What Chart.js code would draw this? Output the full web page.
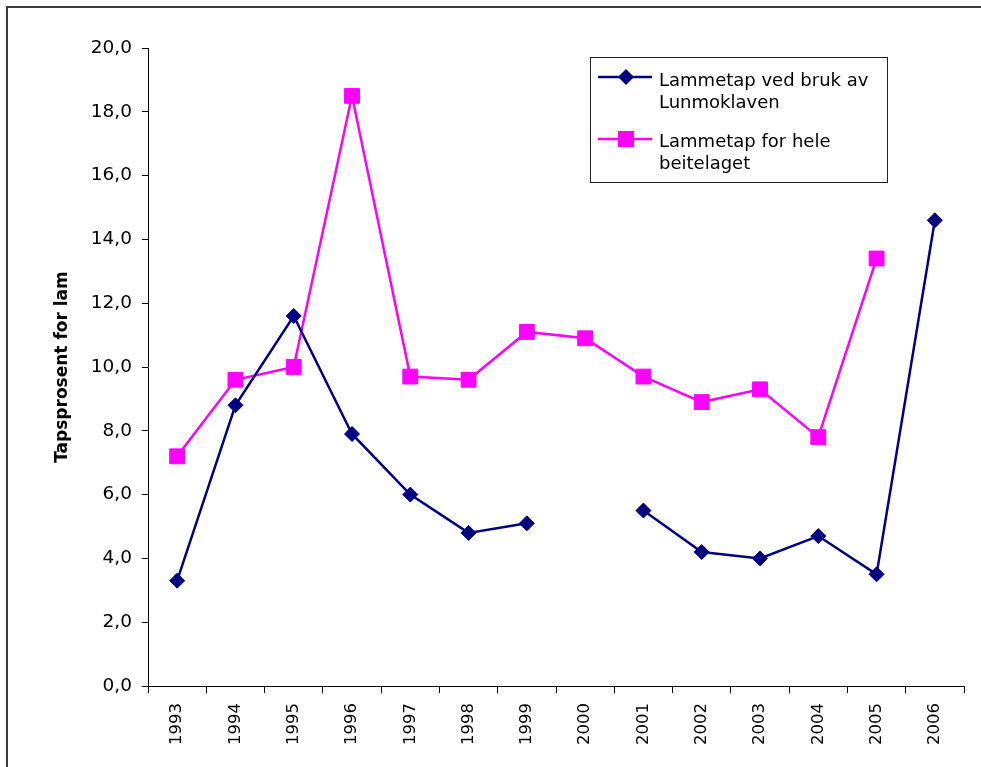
<!DOCTYPE html>
<html>
<head>
<meta charset="utf-8">
<script src="https://cdn.jsdelivr.net/npm/chart.js@4"></script>
<style>
  body { margin: 0; background: #fff; }
  canvas { display: block; }
</style>
</head>
<body>
<canvas id="lamChart" width="981" height="767"></canvas>
<script>
// Years on the x axis
const years = ['1993', '1994', '1995', '1996', '1997', '1998', '1999',
               '2000', '2001', '2002', '2003', '2004', '2005', '2006'];

// Loss percent for lambs (null = no value)
const lunmoklaven = [3.3, 8.8, 11.6, 7.9, 6.0, 4.8, 5.1, null, 5.5, 4.2, 4.0, 4.7, 3.5, 14.6];
const heleBeitelaget = [7.2, 9.6, 10.0, 18.5, 9.7, 9.6, 11.1, 10.9, 9.7, 8.9, 9.3, 7.8, 13.4, null];

// Legend text, one array of lines per series
const legendLines = [
    ['Lammetap ved bruk av', 'Lunmoklaven'],
    ['Lammetap for hele', 'beitelaget']
];

const fontFamily = '"DejaVu Sans", Verdana, sans-serif';

// Draw the outer frame and the boxed legend by hand
const framePlugin = {
    id: 'frameAndLegend',
    afterDraw(chart) {
        const ctx = chart.ctx;
        ctx.save();

        // outer frame (runs off the right and bottom of the window)
        ctx.strokeStyle = '#3a3a3a';
        ctx.lineWidth = 2;
        ctx.strokeRect(7, 7, chart.width + 20, chart.height + 20);

        // legend box
        ctx.lineWidth = 1;
        ctx.strokeStyle = '#222';
        ctx.strokeRect(590.5, 57.5, 297, 125);

        ctx.font = '18px ' + fontFamily;
        ctx.fillStyle = '#000';
        ctx.textBaseline = 'alphabetic';

        const rows = [
            { y: 77, base: 86 },
            { y: 139, base: 147 }
        ];
        chart.data.datasets.forEach((ds, i) => {
            const r = rows[i];
            ctx.strokeStyle = ds.borderColor;
            ctx.lineWidth = 2.5;
            ctx.beginPath();
            ctx.moveTo(598, r.y);
            ctx.lineTo(652, r.y);
            ctx.stroke();

            ctx.fillStyle = ds.pointBackgroundColor;
            if (ds.pointStyle === 'rectRot') {
                ctx.beginPath();
                ctx.moveTo(626, r.y - 8);
                ctx.lineTo(634, r.y);
                ctx.lineTo(626, r.y + 8);
                ctx.lineTo(618, r.y);
                ctx.closePath();
                ctx.fill();
            } else {
                ctx.fillRect(618, r.y - 8, 16, 16);
            }

            ctx.fillStyle = '#000';
            legendLines[i].forEach((line, j) => {
                ctx.fillText(line, 659, r.base + j * 22);
            });
        });
        ctx.restore();
    }
};

new Chart(document.getElementById('lamChart'), {
    type: 'line',
    data: {
        labels: years,
        datasets: [{
            label: legendLines[0].join(' '),
            data: lunmoklaven,
            borderColor: '#000080',
            backgroundColor: '#000080',
            pointBackgroundColor: '#000080',
            pointBorderColor: '#000080',
            pointStyle: 'rectRot',
            pointRadius: 7.5,
            pointBorderWidth: 1,
            borderWidth: 2.5,
            spanGaps: false,
            tension: 0
        }, {
            label: legendLines[1].join(' '),
            data: heleBeitelaget,
            borderColor: '#FF00FF',
            backgroundColor: '#FF00FF',
            pointBackgroundColor: '#FF00FF',
            pointBorderColor: '#FF00FF',
            pointStyle: 'rect',
            pointRadius: 10.5,
            pointBorderWidth: 1,
            borderWidth: 2.5,
            spanGaps: false,
            tension: 0
        }]
    },
    options: {
        responsive: false,
        animation: false,
        devicePixelRatio: 1,
        layout: { padding: { top: 48, right: 17, left: 0, bottom: 0 } },
        plugins: {
            legend: { display: false },
            tooltip: { enabled: false }
        },
        scales: {
            x: {
                offset: true,
                grid: {
                    offset: true,
                    drawOnChartArea: false,
                    drawTicks: true,
                    tickLength: 7,
                    color: '#000'
                },
                border: { display: true, color: '#000', width: 1 },
                ticks: {
                    color: '#000',
                    font: { family: fontFamily, size: 16.5 },
                    maxRotation: 90,
                    minRotation: 90,
                    padding: 10,
                    autoSkip: false
                },
                afterFit(scale) { scale.height = 81; }
            },
            y: {
                min: 0,
                max: 20,
                grid: {
                    drawOnChartArea: false,
                    drawTicks: true,
                    tickLength: 6,
                    color: '#000'
                },
                border: { display: true, color: '#000', width: 1 },
                ticks: {
                    stepSize: 2,
                    color: '#000',
                    padding: 10,
                    font: { family: fontFamily, size: 18.5 },
                    callback: v => v.toFixed(1).replace('.', ',')
                },
                title: {
                    display: true,
                    text: 'Tapsprosent for lam',
                    color: '#000',
                    font: { family: fontFamily, size: 17, weight: 'bold' },
                    padding: { top: 52, bottom: 0 }
                },
                afterFit(scale) { scale.width = 148; }
            }
        }
    },
    plugins: [framePlugin]
});
</script>
</body>
</html>
